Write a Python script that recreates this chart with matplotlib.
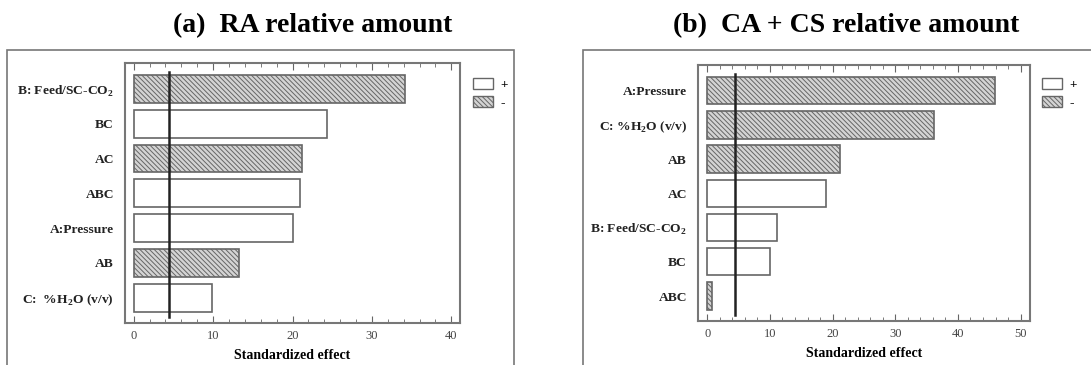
import matplotlib
matplotlib.use("Agg")
import matplotlib.pyplot as plt
from matplotlib.patches import Rectangle, Patch
import numpy as np

plt.rcParams['font.family'] = ['Liberation Serif', 'DejaVu Serif']
plt.rcParams['font.weight'] = 'bold'
plt.rcParams['mathtext.fontset'] = 'custom'
plt.rcParams['mathtext.rm'] = 'Liberation Serif:bold'
plt.rcParams['mathtext.bf'] = 'Liberation Serif:bold'
plt.rcParams['hatch.color'] = '#555555'
plt.rcParams['hatch.linewidth'] = 0.7

# (a) RA relative amount
terms_a = ["B: Feed/SC-CO$_2$", "BC", "AC", "ABC", "A:Pressure", "AB", "C:  %H$_2$O (v/v)"]
effect_a = [34.2, 24.4, 21.2, 20.9, 20.0, 13.2, 9.8]
sign_a = ["-", "+", "-", "+", "+", "-", "+"]
limit_a = 4.41

# (b) CA + CS relative amount
terms_b = ["A:Pressure", "C: %H$_2$O (v/v)", "AB", "AC", "B: Feed/SC-CO$_2$", "BC", "ABC"]
effect_b = [45.9, 36.2, 21.2, 19.0, 11.1, 10.0, 0.8]
sign_b = ["-", "-", "-", "+", "+", "+", "-"]
limit_b = 4.42

HATCH = '\\\\\\\\\\\\\\'

W, H = 1091, 365
fig = plt.figure(figsize=(W / 100, H / 100), dpi=100)

def px_axes(x0, y0, x1, y1):
    return fig.add_axes([x0 / W, 1 - y1 / H, (x1 - x0) / W, (y1 - y0) / H])

def pareto(ax, terms, effect, sign, limit, xmax, xlim):
    y = np.arange(len(terms))
    for yi, v, s in zip(y, effect, sign):
        if s == "+":
            ax.barh(yi, v, height=0.8, color='white', edgecolor='#666666', linewidth=1.2)
        else:
            ax.barh(yi, v, height=0.8, color='#d4d4d4', edgecolor='#666666', linewidth=1.2,
                    hatch=HATCH)
    ax.plot([limit, limit], [-0.5, len(terms) - 0.45], color='#222222', lw=1.8)
    ax.set_ylim(len(terms) - 0.27, -0.75)
    ax.set_xlim(*xlim)
    ax.set_yticks(y)
    ax.set_yticklabels(terms, fontsize=9.7, fontweight='bold', color='#222222')
    ax.set_xticks(np.arange(0, xmax + 1, 10))
    ax.set_xticks(np.arange(0, xmax + 1, 2), minor=True)
    ax.tick_params(axis='x', which='both', direction='in', top=True, bottom=True,
                   labelsize=9, labelcolor='#444444', color='#666666', pad=5)
    ax.tick_params(axis='x', which='major', length=5)
    ax.tick_params(axis='x', which='minor', length=3)
    ax.tick_params(axis='y', length=0, pad=8)
    for sp in ax.spines.values():
        sp.set_color('#777777')
        sp.set_linewidth(1.5)
    ax.set_xlabel("Standardized effect", fontsize=10, fontweight='bold', labelpad=5)
    for lab in ax.get_xticklabels():
        lab.set_fontweight('normal')

# outer frames
fig.patches.append(Rectangle((7 / W, -0.1), (514 - 7) / W, 1.1 - 50 / H, transform=fig.transFigure,
                             fill=False, edgecolor='#777777', lw=1.2))
fig.patches.append(Rectangle((583 / W, -0.1), 0.5, 1.1 - 50 / H, transform=fig.transFigure,
                             fill=False, edgecolor='#777777', lw=1.2))

ax1 = px_axes(125, 63, 460, 323)
pareto(ax1, terms_a, effect_a, sign_a, limit_a, 40, (-1.1, 41.1))
ax2 = px_axes(698, 65, 1030, 321)
pareto(ax2, terms_b, effect_b, sign_b, limit_b, 50, (-1.48, 51.5))

handles = [Patch(facecolor='white', edgecolor='#666666', lw=1.0, label='+'),
           Patch(facecolor='#d4d4d4', edgecolor='#666666', lw=1.0, hatch=HATCH, label='-')]
for ax, xa in ((ax1, 473), (ax2, 1042)):
    ax.legend(handles=handles, loc='upper left', bbox_to_anchor=(xa / W, 1 - 78 / H),
              bbox_transform=fig.transFigure, frameon=False, fontsize=9.5,
              handlelength=1.5, handleheight=0.9, handletextpad=0.6, labelspacing=0.35,
              borderaxespad=0, borderpad=0)

fig.text(313 / W, 1 - 26 / H, "(a)  RA relative amount", ha='center', va='center',
         fontsize=20, fontweight='bold')
fig.text(846 / W, 1 - 26 / H, "(b)  CA + CS relative amount", ha='center', va='center',
         fontsize=20, fontweight='bold')

fig.savefig("out.png", dpi=100, facecolor='white')
